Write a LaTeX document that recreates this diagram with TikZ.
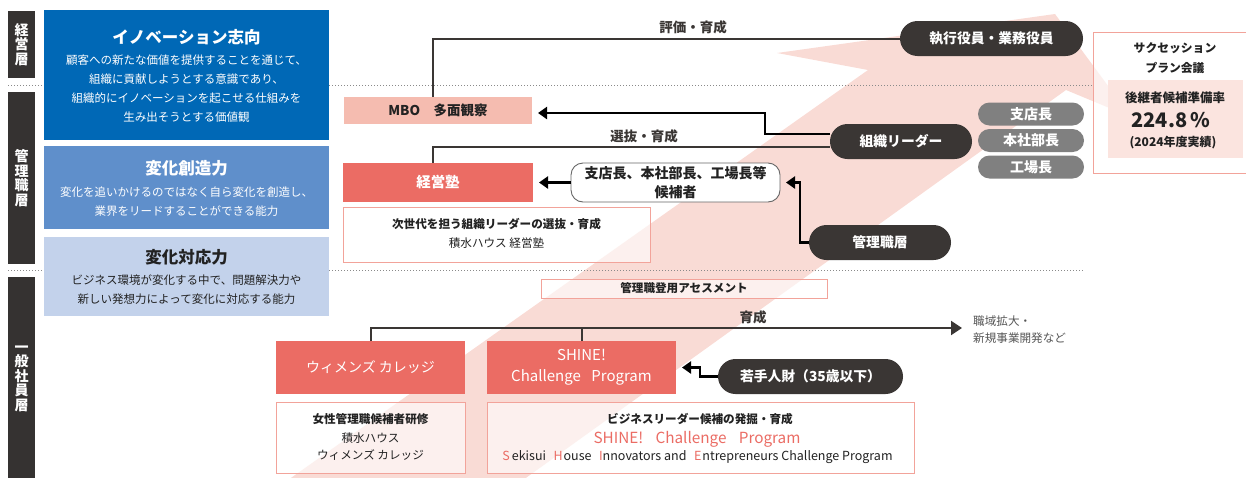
\documentclass[tikz,border=0pt]{standalone}
\usepackage{fontspec}
\setmainfont{Noto Sans CJK JP}
\usetikzlibrary{arrows.meta,calc}
\definecolor{band}{HTML}{F9DBD5}
\definecolor{pinkline}{HTML}{F2A39A}
\definecolor{coral}{HTML}{EB6C64}
\definecolor{mbofill}{HTML}{F5BCB0}
\definecolor{darkpill}{HTML}{3A3634}
\definecolor{graypill}{HTML}{808080}
\definecolor{blueA}{HTML}{0068B6}
\definecolor{blueB}{HTML}{5F8FCB}
\definecolor{blueC}{HTML}{C3D2EB}
\definecolor{barc}{HTML}{353231}
\definecolor{linec}{HTML}{3A3634}
\definecolor{succfill}{HTML}{FBE4DF}
\definecolor{dotc}{HTML}{8A8A8A}
\definecolor{txtgray}{HTML}{555555}
\definecolor{txtdark}{HTML}{222222}
\newcommand{\myfs}[2]{\fontsize{#1}{#2}\selectfont}
\begin{document}
\begin{tikzpicture}[x=1pt,y=-1pt,
  lbar/.style={fill=barc, text=white, font=\bfseries\myfs{14}{14.5}, align=center, inner sep=0pt, outer sep=0pt, minimum width=27pt},
  bluebox/.style={inner sep=0pt, outer sep=0pt, minimum width=285pt},
  btitle/.style={font=\bfseries\myfs{16.5}{19}, inner sep=0pt},
  bbody/.style={font=\myfs{11.5}{19}, align=center, inner sep=0pt},
  pill/.style={fill=darkpill, rounded corners=17.5pt, text=white, font=\bfseries\myfs{13.8}{16}, inner sep=0pt, outer sep=0pt, minimum height=35pt},
  gpill/.style={fill=graypill, rounded corners=11.5pt, text=white, font=\bfseries\myfs{14}{16}, inner sep=0pt, outer sep=0pt, minimum width=106pt, minimum height=23pt},
  coralbox/.style={fill=coral, text=white, inner sep=0pt, outer sep=0pt, align=center},
  descbox/.style={draw=pinkline, line width=1pt, fill=white, fill opacity=0.6, inner sep=0pt, outer sep=0pt},
  dtext/.style={font=\myfs{11.6}{19}, text=txtdark, align=center, inner sep=0pt},
  dbold/.style={font=\bfseries\myfs{11.6}{19}, text=txtdark, align=center, inner sep=0pt},
  conn/.style={draw=linec, line width=2pt},
  arr/.style={draw=black, line width=2.3pt, -{Triangle[length=9pt,width=12pt]}, shorten >=6pt},
  lbl/.style={font=\bfseries\myfs{13.5}{16}, text=linec, inner sep=0pt},
  dotline/.style={draw=dotc, line width=1pt, dash pattern=on 1pt off 2pt}
]
\useasboundingbox (0,0) rectangle (1246,477);
% pink band arrow
\begin{scope}
\clip (0,0) rectangle (1246,477);
\fill[band] (288,480) -- (868,70) -- (777,53) -- (1055,14) -- (1131,117) -- (1066,90) -- (523,480) -- cycle;
\end{scope}
% dotted tier separators
\coordinate (d1a) at (8,85); \coordinate (d1b) at (1093,85);
\coordinate (d2a) at (8,270); \coordinate (d2b) at (1083,270);
\draw[dotline] (d1a) -- (d1b);
\draw[dotline] (d2a) -- (d2b);
% tier bars
\node[lbar, minimum height=67pt] (barA) at (21.5,44.5) {経\\営\\層};
\node[lbar, minimum height=172pt] (barB) at (21.5,178) {管\\理\\職\\層};
\node[lbar, minimum height=203pt] (barC) at (21.5,378.5) {一\\般\\社\\員\\層};
% blue boxes
\node[bluebox, fill=blueA, minimum height=130pt] (inno) at (186.5,75) {};
\node[btitle, text=white] (innoT) at (186.5,37.5) {イノベーション志向};
\node[bbody, text=white] (innoB) at (186.5,89) {顧客への新たな価値を提供することを通じて、\\組織に貢献しようとする意識であり、\\組織的にイノベーションを起こせる仕組みを\\生み出そうとする価値観};
\node[bluebox, fill=blueB, minimum height=83pt] (sozo) at (186.5,187.5) {};
\node[btitle, text=white] (sozoT) at (186.5,168) {変化創造力};
\node[bbody, text=white] (sozoB) at (186.5,201.5) {変化を追いかけるのではなく自ら変化を創造し、\\業界をリードすることができる能力};
\node[bluebox, fill=blueC, minimum height=79pt] (taio) at (186.5,276.5) {};
\node[btitle, text=txtdark] (taioT) at (186.5,257.5) {変化対応力};
\node[bbody, text=txtdark] (taioB) at (186.5,289.5) {ビジネス環境が変化する中で、問題解決力や\\新しい発想力によって変化に対応する能力};
% top area
\node[pill, minimum width=183pt] (exec) at (991.5,38.5) {執行役員・業務役員};
\node[fill=mbofill, minimum width=188pt, minimum height=27pt, inner sep=0pt, outer sep=0pt, font=\bfseries\myfs{13.5}{16}, text=txtdark] (mbo) at (438,110.5) {MBO　多面観察};
\node[pill, minimum width=142pt] (leader) at (901,141.5) {組織リーダー};
\node[gpill] (g1) at (1031,114) {支店長};
\node[gpill] (g2) at (1031,140.5) {本社部長};
\node[gpill] (g3) at (1031,167) {工場長};
% succession box
\node[draw=pinkline, line width=1pt, fill=white, fill opacity=0.6, minimum width=159pt, minimum height=141pt, inner sep=0pt, outer sep=0pt] (succ) at (1172.5,102.5) {};
\node[fill=succfill, minimum width=135pt, minimum height=78pt, inner sep=0pt, outer sep=0pt] (rate) at (1175.5,119) {};
\node[font=\bfseries\myfs{11.8}{20}, text=txtdark, align=center, inner sep=0pt] (succT) at (1175,58) {サクセッション\\プラン会議};
\node[font=\bfseries\myfs{12.5}{15}, text=txtdark, inner sep=0pt] (rateT) at (1175,98) {後継者候補準備率};
\node[font=\bfseries\myfs{20}{22}, text=txtdark, inner sep=0pt] (rateV) at (1171,120) {224.8\,\%};
\node[font=\bfseries\myfs{12}{14}, text=txtdark, inner sep=0pt] (rateY) at (1173,142.5) {(2024年度実績)};
% middle area
\node[coralbox, minimum width=190pt, minimum height=39pt, font=\bfseries\myfs{14.4}{16}] (juku) at (438,182.5) {経営塾};
\node[descbox, minimum width=307pt, minimum height=55pt] (jukuD) at (496.5,234.5) {};
\node[dbold] (jukuD1) at (496.5,224) {次世代を担う組織リーダーの選抜・育成};
\node[dtext] (jukuD2) at (496.5,243.5) {積水ハウス 経営塾};
\node[draw=black!60, line width=0.9pt, fill=white, rounded corners=12pt, minimum width=209pt, minimum height=39pt, inner sep=0pt, outer sep=0pt, align=center, font=\bfseries\myfs{14}{18.5}, text=txtdark] (cand) at (675.5,182.5) {支店長、本社部長、工場長等\\候補者};
\node[pill, minimum width=142pt] (mgr) at (880,242.5) {管理職層};
\node[descbox, minimum width=286pt, minimum height=19pt] (assess) at (684,288.5) {};
\node[dbold] (assessT) at (684,288.5) {管理職登用アセスメント};
% bottom area
\node[coralbox, minimum width=189pt, minimum height=53pt, font=\myfs{14}{20}] (wom) at (370.5,367.5) {ウィメンズ カレッジ};
\node[coralbox, minimum width=189pt, minimum height=53pt, font=\myfs{15}{21}] (shine) at (581.5,367.5) {SHINE!\\Challenge\hspace{0.7em}Program};
\node[pill, minimum width=185pt] (young) at (810.5,376.5) {若手人財（35歳以下）};
\node[descbox, minimum width=189pt, minimum height=71pt] (womD) at (370.5,437.5) {};
\node[dbold] (womD1) at (370.5,419.5) {女性管理職候補者研修};
\node[dtext, font=\myfs{11.6}{17.5}] (womD2) at (370.5,446.5) {積水ハウス\\ウィメンズ カレッジ};
\node[descbox, minimum width=427pt, minimum height=71pt] (shineD) at (700.5,437.5) {};
\node[dbold] (shineD1) at (700,419) {ビジネスリーダー候補の発掘・育成};
\node[font=\myfs{15.3}{18}, text=coral, inner sep=0pt] (shineD2) at (697,439) {SHINE!\hspace{0.8em}Challenge\hspace{0.8em}Program};
\node[font=\myfs{12.5}{16}, text=txtdark, inner sep=0pt] (shineD3) at (697.5,457) {\textcolor{coral}{S}\hspace{2pt}ekisui\hspace{0.6em}\textcolor{coral}{H}\hspace{1pt}ouse\hspace{0.6em}\textcolor{coral}{I}nnovators and\hspace{0.6em}\textcolor{coral}{E}\hspace{1pt}ntrepreneurs Challenge Program};
\node[font=\myfs{11.6}{17}, text=txtgray, align=left, inner sep=0pt, anchor=west] (expand) at (973,329.5) {職域拡大・\\新規事業開発など};
% connectors
\coordinate (growEnd) at (962,328);
\coordinate (bendA) at (765,113);
\draw[conn] ($(mbo.north)+(-5,0)$) |- (exec.west);
\node[lbl] (evalL) at (693,27) {評価・育成};
\draw[conn] ($(juku.north)+(-5,0)$) |- ($(leader.west)+(0,5.5)$);
\node[lbl] (selL) at (644,136.5) {選抜・育成};
\draw[arr] ($(leader.west)+(0,-7.5)$) -| (bendA) -- (bendA -| mbo.east);
\draw[arr] (cand.west) -- (juku.east);
\draw[arr] (mgr.west) -- ++(-9,0) |- (cand.east);
\draw[conn, -{Triangle[length=11pt,width=14pt]}] (wom.north) |- (growEnd);
\draw[conn] (shine.north) -- (shine.north |- growEnd);
\node[lbl] (growL) at (753,317) {育成};
\draw[arr] (young.west) -- ++(-18,0) |- (shine.east);
\end{tikzpicture}
\end{document}
